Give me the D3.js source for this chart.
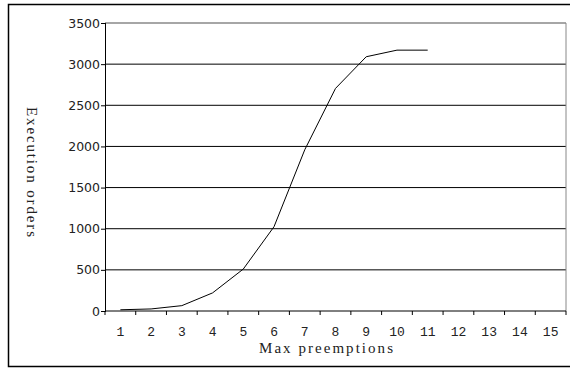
<!DOCTYPE html>
<html>
<head>
<meta charset="utf-8">
<script src="https://cdn.jsdelivr.net/npm/d3@7"></script>
<style>
  body { margin: 0; background: #fff; }
  svg { display: block; }
</style>
</head>
<body>
<svg id="chart" width="570" height="369"></svg>
<script>
// categories on the x axis (max preemptions)
const categories = ["1","2","3","4","5","6","7","8","9","10","11","12","13","14","15"];
// execution orders, only measured up to 11
const values = [15, 25, 65, 220, 510, 1025, 1960, 2705, 3090, 3170, 3170];
const yTicks = [0, 500, 1000, 1500, 2000, 2500, 3000, 3500];

const svg = d3.select("#chart");
const m = { left: 105, top: 23, right: 566, bottom: 311 };

// outer frame
svg.append("rect")
  .attr("x", 8.5).attr("y", 4.5)
  .attr("width", 580).attr("height", 362)
  .attr("fill", "none")
  .attr("stroke", "#000")
  .attr("stroke-width", 1.5);

const x = d3.scaleBand().domain(categories).range([m.left, m.right]);
const y = d3.scaleLinear().domain([0, 3500]).range([m.bottom, m.top]);

// horizontal grid
svg.append("g")
  .selectAll("line")
  .data(yTicks.slice(1))
  .join("line")
  .attr("x1", m.left).attr("x2", m.right)
  .attr("y1", d => y(d)).attr("y2", d => y(d))
  .attr("stroke", d => d === 3500 ? "#888" : "#000")
  .attr("stroke-width", d => d === 3500 ? 1.5 : 1);

// right border of the plot
svg.append("line")
  .attr("x1", m.right).attr("x2", m.right)
  .attr("y1", m.top).attr("y2", m.bottom)
  .attr("stroke", "#888");

// y axis
const yAxis = svg.append("g")
  .attr("transform", `translate(${m.left},0)`)
  .call(d3.axisLeft(y).tickValues(yTicks).tickFormat(d3.format("d"))
    .tickSize(4).tickPadding(2).tickSizeOuter(0));
yAxis.select(".domain").attr("stroke", "#000");
yAxis.selectAll(".tick line").attr("x2", -4).attr("x1", 1);
yAxis.selectAll("text")
  .attr("font-family", "DejaVu Sans")
  .attr("font-size", 12.5)
  .attr("fill", "#222")
  .attr("x", -5);

// x axis, ticks at band edges
const xAxis = svg.append("g").attr("transform", `translate(0,${m.bottom})`);
xAxis.append("line")
  .attr("x1", m.left).attr("x2", m.right)
  .attr("stroke", "#000");
const edges = categories.map(c => x(c)).concat([m.right]);
xAxis.selectAll("line.tk")
  .data(edges)
  .join("line")
  .attr("class", "tk")
  .attr("x1", d => d).attr("x2", d => d)
  .attr("y1", 0).attr("y2", 4)
  .attr("stroke", "#000");
xAxis.selectAll("text")
  .data(categories)
  .join("text")
  .attr("x", d => x(d) + x.bandwidth() / 2)
  .attr("y", 25)
  .attr("text-anchor", "middle")
  .attr("font-family", "Liberation Mono")
  .attr("font-size", 13)
  .attr("fill", "#222")
  .text(d => d);

// axis titles
svg.append("text")
  .attr("x", 259).attr("y", 353)
  .attr("font-family", "Liberation Serif")
  .attr("font-size", 15)
  .attr("textLength", 134)
  .attr("lengthAdjust", "spacing")
  .attr("fill", "#222")
  .text("Max preemptions");

svg.append("text")
  .attr("transform", "translate(27,107) rotate(90)")
  .attr("font-family", "Liberation Serif")
  .attr("font-size", 15)
  .attr("textLength", 130)
  .attr("lengthAdjust", "spacing")
  .attr("fill", "#222")
  .text("Execution orders");

// data line
const line = d3.line()
  .x((d, i) => x(categories[i]) + x.bandwidth() / 2)
  .y(d => y(d));
svg.append("path")
  .datum(values)
  .attr("d", line)
  .attr("fill", "none")
  .attr("stroke", "#000")
  .attr("stroke-width", 1);
</script>
</body>
</html>
